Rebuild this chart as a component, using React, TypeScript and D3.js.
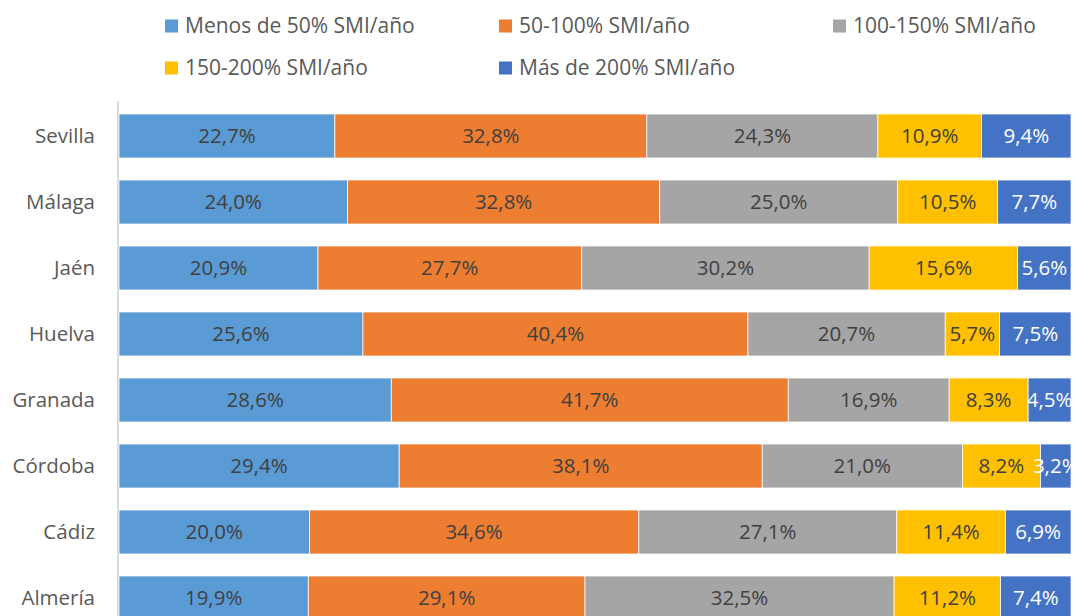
import React from "react";
import * as d3 from "d3";

const categories = ["Sevilla", "Málaga", "Jaén", "Huelva", "Granada", "Córdoba", "Cádiz", "Almería"];
const seriesNames = ["Menos de 50% SMI/año", "50-100% SMI/año", "100-150% SMI/año", "150-200% SMI/año", "Más de 200% SMI/año"];
const seriesColors = ["#5B9BD5", "#ED7D31", "#A5A5A5", "#FFC000", "#4472C4"];
const labelColors = ["#404040", "#404040", "#404040", "#404040", "#FFFFFF"];

const menos50 = [22.7, 24.0, 20.9, 25.6, 28.6, 29.4, 20.0, 19.9];
const s50_100 = [32.8, 32.8, 27.7, 40.4, 41.7, 38.1, 34.6, 29.1];
const s100_150 = [24.3, 25.0, 30.2, 20.7, 16.9, 21.0, 27.1, 32.5];
const s150_200 = [10.9, 10.5, 15.6, 5.7, 8.3, 8.2, 11.4, 11.2];
const mas200 = [9.4, 7.7, 5.6, 7.5, 4.5, 3.2, 6.9, 7.4];

const seriesValues = [menos50, s50_100, s100_150, s150_200, mas200];

const W = 1075;
const H = 616;
const FONT = "'Open Sans', 'Noto Sans', sans-serif";

export default function App() {
  const left = 119;
  const right = 1071;
  const x = d3.scaleLinear().domain([0, 1]).range([left, right]);
  const y = d3.scaleBand<string>().domain(categories).range([103, 103 + 66 * 8]).paddingInner(1 / 3).paddingOuter(1 / 6);

  const rows = categories.map((c, i) => {
    const vals = seriesValues.map((s) => s[i]);
    const total = d3.sum(vals);
    let acc = 0;
    return vals.map((v, k) => {
      const x0 = acc / total;
      acc += v;
      const x1 = acc / total;
      return { cat: c, k, v, x0, x1 };
    });
  });

  const fmt = (v: number) => v.toFixed(1).replace(".", ",") + "%";

  const legendPos = [
    [165, 26],
    [499, 26],
    [833, 26],
    [165, 68],
    [499, 68],
  ];

  return (
    <svg width={W} height={H} style={{ position: "absolute", left: 0, top: 0, background: "#fff" }} fontFamily={FONT}>
      <rect x={0} y={0} width={W} height={H} fill="#fff" />
      {seriesNames.map((n, k) => (
        <g key={n} transform={`translate(${legendPos[k][0]},${legendPos[k][1]})`}>
          <rect x={0} y={-6.5} width={13} height={13} fill={seriesColors[k]} />
          <text x={20} y={0} dy="0.35em" fontSize={21} fill="#595959">
            {n}
          </text>
        </g>
      ))}
      <line x1={118} x2={118} y1={101} y2={H} stroke="#D9D9D9" strokeWidth={2} />
      {rows.map((r) =>
        r.map((d) => {
          const y0 = y(d.cat)!;
          const bw = y.bandwidth();
          const xa = x(d.x0);
          const xb = x(d.x1);
          return (
            <g key={d.cat + d.k}>
              <rect x={xa} y={y0} width={xb - xa} height={bw} fill={seriesColors[d.k]} stroke="#FFFFFF" strokeWidth={0.75} />
              <text x={(xa + xb) / 2} y={y0 + bw / 2} dy="0.35em" textAnchor="middle" fontSize={20.5} fill={labelColors[d.k]}>
                {fmt(d.v)}
              </text>
            </g>
          );
        })
      )}
      {categories.map((c) => (
        <text key={c} x={95} y={y(c)! + y.bandwidth() / 2} dy="0.35em" textAnchor="end" fontSize={20.5} fill="#595959">
          {c}
        </text>
      ))}
    </svg>
  );
}
